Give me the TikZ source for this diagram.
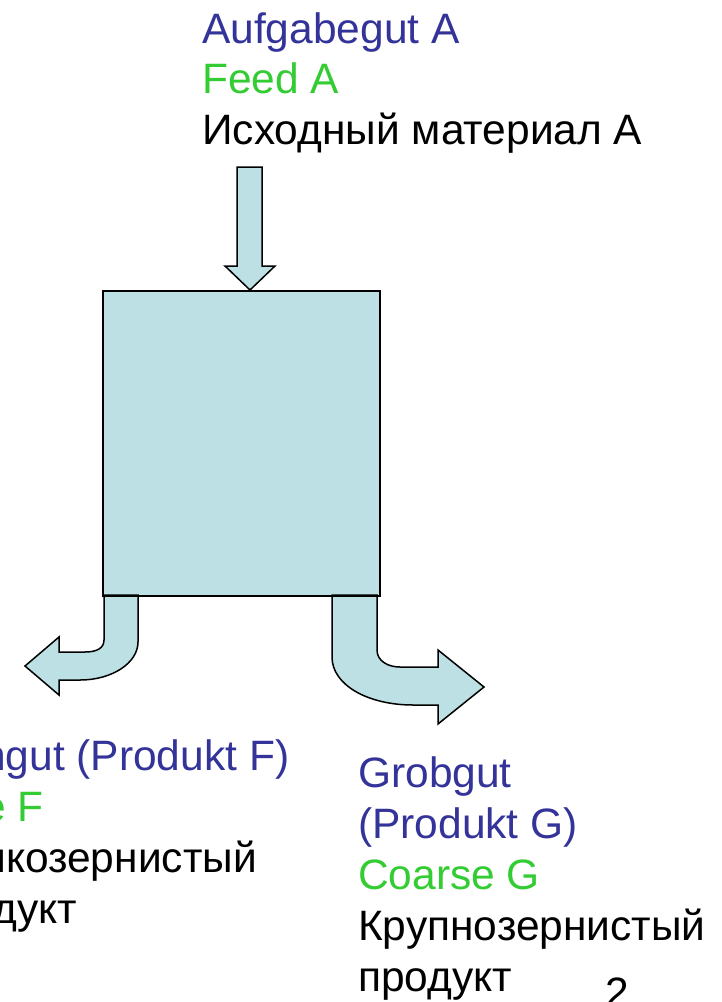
\documentclass[tikz,border=0pt]{standalone}
\usepackage{fontspec}
\setmainfont{Liberation Sans}
\definecolor{deblue}{RGB}{51,51,153}
\definecolor{engreen}{RGB}{51,204,51}
\definecolor{boxfill}{RGB}{189,224,228}
\tikzset{
  lbl/.style={anchor=base west, inner sep=0pt, font=\fontsize{42.5}{50}\selectfont},
  shapefill/.style={fill=boxfill, draw=black, line width=1.5pt, line join=miter},
}
\begin{document}
\begin{tikzpicture}[x=1pt,y=-1pt]
\useasboundingbox (0,0) rectangle (721,1002);
\clip (0,0) rectangle (721,1002);
% separator box
\node[shapefill, minimum width=277pt, minimum height=305pt, anchor=north west, inner sep=0pt] (sep) at (102,290) {};
% feed arrow
\path[shapefill] (237,167) -- (262,167) -- (262,266) -- (275,266) -- (250,290) -- (225,266) -- (237,266) -- cycle;
% fine product arrow (left)
\path[shapefill] (104,595) -- (104,640) .. controls (104,648) and (97,652) .. (85,652) -- (59,652) -- (59,637) -- (25,666) -- (59,695) -- (59,680) -- (80,680) .. controls (112,680) and (138,663) .. (138,642) -- (138,595) -- cycle;
% coarse product arrow (right)
\path[shapefill] (377,595) -- (377,650) .. controls (377,661) and (388,667) .. (400,667) -- (438,667) -- (438,650) -- (484,687) -- (438,724) -- (438,705) -- (413,705) .. controls (368,705) and (332,685) .. (332,657) -- (332,595) -- cycle;
% box bottom edge over arrows
\draw[line width=1.5pt] (sep.south west) -- (sep.south east);
% top labels
\node[lbl, text=deblue] (a1) at (202,43) {Aufgabegut A};
\node[lbl, text=engreen] (a2) at (202,93) {Feed A};
\node[lbl] (a3) at (202,144) {Исходный материал А};
% left labels (cut off at the left edge, as in the reference)
\node[lbl, text=deblue] (f1) at (-77,770) {Feingut (Produkt F)};
\node[lbl, text=engreen] (f2) at (-77,821) {Fine F};
\node[lbl] (f3) at (-77,872) {Мелкозернистый};
\node[lbl] (f4) at (-77,923) {продукт};
% right labels
\node[lbl, text=deblue] (g1) at (358,787) {Grobgut};
\node[lbl, text=deblue] (g2) at (358,838) {(Produkt G)};
\node[lbl, text=engreen] (g3) at (358,889) {Coarse G};
\node[lbl] (g4) at (358,940) {Крупнозернистый};
\node[lbl] (g5) at (358,991) {продукт};
% page number
\node[lbl] (pn) at (605,1007) {2};
\end{tikzpicture}
\end{document}
